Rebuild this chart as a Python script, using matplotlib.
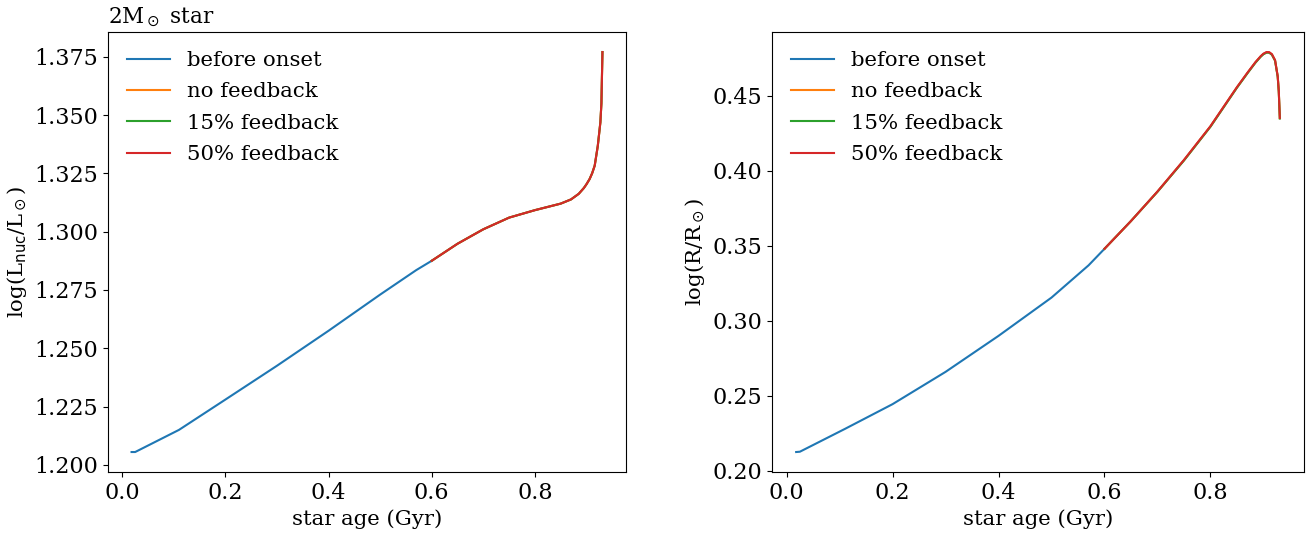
import matplotlib
matplotlib.use("Agg")
import matplotlib.pyplot as plt

plt.rcParams['font.family'] = ['DejaVu Serif']
plt.rcParams['font.size'] = 15.3
plt.rcParams['xtick.labelsize'] = 16
plt.rcParams['ytick.labelsize'] = 16
plt.rcParams['legend.labelspacing'] = 0.58

# star age (Gyr)
age_before = [0.018, 0.025, 0.11, 0.2, 0.3, 0.4, 0.5, 0.57, 0.6]
age_after = [0.6, 0.65, 0.7, 0.75, 0.8, 0.85, 0.87, 0.885, 0.895, 0.9,
             0.906, 0.911, 0.916, 0.922, 0.927, 0.929, 0.931]

# log(L_nuc/L_sun)
lum_before = [1.2055, 1.2055, 1.215, 1.228, 1.2425, 1.2575, 1.273, 1.2835, 1.2875]
lum_nofb = [1.2875, 1.2948, 1.301, 1.306, 1.3092, 1.312, 1.3138, 1.3162, 1.3187,
            1.3203, 1.3225, 1.325, 1.3283, 1.3368, 1.3469, 1.355, 1.377]
lum_15 = [1.2875, 1.2948, 1.301, 1.306, 1.3092, 1.312, 1.3138, 1.3162, 1.3187,
          1.3203, 1.3225, 1.325, 1.3283, 1.3368, 1.3469, 1.355, 1.377]
lum_50 = [1.2875, 1.2948, 1.301, 1.306, 1.3092, 1.312, 1.3138, 1.3162, 1.3187,
          1.3203, 1.3225, 1.325, 1.3283, 1.3368, 1.3469, 1.355, 1.377]

# log(R/R_sun)
rad_before = [0.2126, 0.2128, 0.228, 0.2445, 0.266, 0.290, 0.3155, 0.337, 0.348]
rad_nofb = [0.348, 0.3665, 0.386, 0.407, 0.4295, 0.4555, 0.4652, 0.4722, 0.4762,
            0.4778, 0.4789, 0.4788, 0.4775, 0.4735, 0.4628, 0.453, 0.435]
rad_15 = [0.348, 0.3665, 0.386, 0.4068, 0.4293, 0.4553, 0.465, 0.472, 0.476,
          0.4776, 0.4787, 0.4786, 0.4773, 0.4733, 0.4626, 0.4528, 0.4348]
rad_50 = [0.348, 0.3665, 0.3862, 0.4072, 0.4297, 0.4557, 0.4654, 0.4724, 0.4764,
          0.478, 0.4791, 0.479, 0.4777, 0.4737, 0.463, 0.4532, 0.4352]

labels = ['before onset', 'no feedback', '15% feedback', '50% feedback']

fig = plt.figure(figsize=(13.14, 5.33), dpi=100)
ax1 = fig.add_axes([0.0822, 0.1144, 0.3942, 0.8255])
ax2 = fig.add_axes([0.5875, 0.1144, 0.4049, 0.8255])

ax1.plot(age_before, lum_before, label=labels[0])
ax1.plot(age_after, lum_nofb, label=labels[1])
ax1.plot(age_after, lum_15, label=labels[2])
ax1.plot(age_after, lum_50, label=labels[3])
ax1.set_xlabel('star age (Gyr)')
ax1.set_ylabel(r'log(L$_{\rm nuc}$/L$_\odot$)')
ax1.set_title(r'2M$_\odot$ star', loc='left', fontsize=15.5)
ax1.legend(frameon=False, loc='upper left')

ax2.plot(age_before, rad_before, label=labels[0])
ax2.plot(age_after, rad_nofb, label=labels[1])
ax2.plot(age_after, rad_15, label=labels[2])
ax2.plot(age_after, rad_50, label=labels[3])
ax2.set_xlabel('star age (Gyr)')
ax2.set_ylabel(r'log(R/R$_\odot$)')
ax2.legend(frameon=False, loc='upper left')

for ax in (ax1, ax2):
    ax.set_xticks([0.0, 0.2, 0.4, 0.6, 0.8])
ax1.set_yticks([1.200, 1.225, 1.250, 1.275, 1.300, 1.325, 1.350, 1.375])
ax2.set_yticks([0.20, 0.25, 0.30, 0.35, 0.40, 0.45])

plt.savefig('out.png', dpi=100)
